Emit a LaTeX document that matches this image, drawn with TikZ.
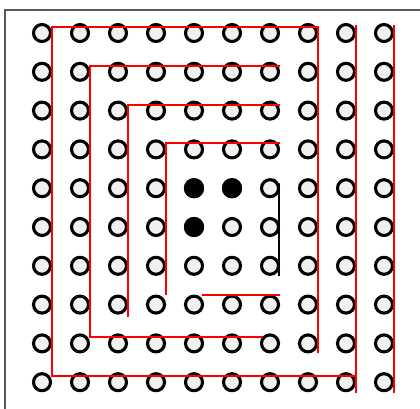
\documentclass[tikz,border=0pt]{standalone}
\usepackage{tikz}
\usetikzlibrary{calc}
\tikzset{
  peg/.style={circle, draw=black, line width=3.1pt, fill=gray!12,
              minimum size=17pt, inner sep=0pt},
  pegfull/.style={peg, fill=black},
  wire/.style={draw=red, line width=2.1pt},
  blackwire/.style={draw=black, line width=1.8pt},
  frame/.style={draw=black!65, line width=1.5pt},
}
\begin{document}
\begin{tikzpicture}[x=1pt, y=-1pt]
  \useasboundingbox (0,0) rectangle (420,409);
  \fill[white] (0,0) rectangle (420,409);
  \draw[frame] (5,409) -- (5,10) -- (420,10);

  % pegboard
  \foreach \c in {1,...,10}
    \foreach \r in {1,...,10}
      \node[peg] (peg-\c-\r) at ({42+38*(\c-1)}, {33+38.8*(\r-1)}) {};
  \foreach \p in {5-5,6-5,5-6}
    \node[pegfull] at (peg-\p) {};

  % red wires
  \draw[wire] ($(peg-10-1)+(10,-8)$) -- ($(peg-10-10)+(10,11)$);
  \draw[wire] ($(peg-9-1)+(10,-8)$) -- ($(peg-9-10)+(10,11)$);
  \draw[wire] ($(peg-8-9)+(10,10)$) -- ($(peg-8-1)+(10,-6)$)
    -- ($(peg-1-1)+(10,-6)$) -- ($(peg-1-10)+(10,-6)$) -- ($(peg-9-10)+(10,-6)$);
  \draw[wire] ($(peg-7-2)+(10,-6)$) -- ($(peg-2-2)+(10,-6)$)
    -- ($(peg-2-9)+(10,-6)$) -- ($(peg-7-9)+(-7,-6)$);
  \draw[wire] ($(peg-7-3)+(10,-6)$) -- ($(peg-3-3)+(10,-6)$)
    -- ($(peg-3-8)+(10,12)$);
  \draw[wire] ($(peg-7-4)+(10,-6)$) -- ($(peg-4-4)+(10,-6)$)
    -- ($(peg-4-8)+(10,-10)$);
  \draw[wire] ($(peg-5-8)+(8,-10)$) -- ($(peg-7-8)+(10,-10)$);

  % black wire
  \draw[blackwire] ($(peg-7-5)+(3,-9)$) to[out=0, in=-90] ($(peg-7-5)+(9,-3)$)
    -- ($(peg-7-7)+(9,10)$);
\end{tikzpicture}
\end{document}
